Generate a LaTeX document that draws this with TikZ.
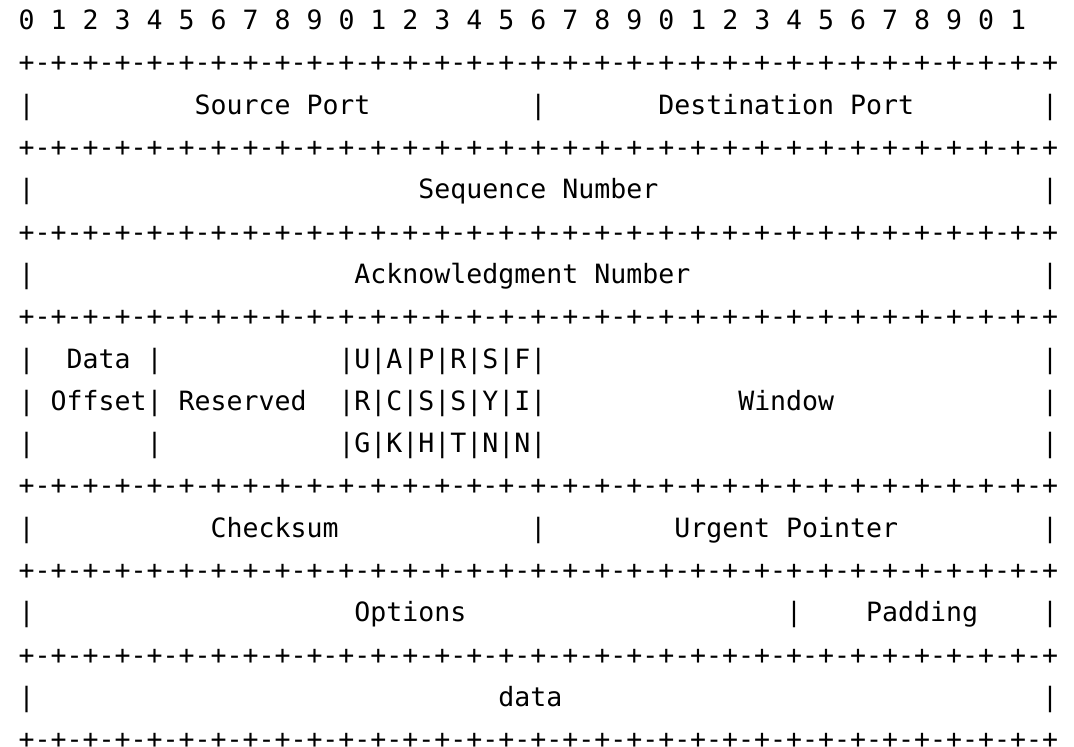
\documentclass[tikz,border=0pt]{standalone}
\usepackage{fontspec}
\newfontfamily\asciifont{DejaVu Sans Mono}

\tikzset{
  ascii/.style={font={\asciifont\fontsize{13.28pt}{16pt}\selectfont},
                anchor=base west, inner sep=0pt, outer sep=0pt},
}

\begin{document}
\begin{tikzpicture}[x=7.995pt, y=-21.15pt]
  \useasboundingbox (-9.35pt,14.8pt) rectangle (527.65pt,-358.2pt);

  % bit numbers along the top
  \foreach \b [evaluate=\b as \d using {int(mod(\b,10))}] in {0,...,31}
    \node[ascii] (bit\b) at (2*\b,0) {\d};

  % separator rows
  \foreach \r in {1,3,5,7,11,13,15,17}
    \node[ascii] (rule\r) at (0,\r) {+-+-+-+-+-+-+-+-+-+-+-+-+-+-+-+-+-+-+-+-+-+-+-+-+-+-+-+-+-+-+-+-+};

  % outer bars of the field rows
  \foreach \r in {2,4,6,8,9,10,12,14,16} {
    \node[ascii] (lbar\r) at (0,\r)  {|};
    \node[ascii] (rbar\r) at (64,\r) {|};
  }

  % ports
  \node[ascii] (src)    at (11,2) {Source Port};
  \node[ascii] (mid2)   at (32,2) {|};
  \node[ascii] (dst)    at (40,2) {Destination Port};

  % sequence / ack
  \node[ascii] (seq)    at (25,4) {Sequence Number};
  \node[ascii] (ack)    at (21,6) {Acknowledgment Number};

  % offset, reserved, flags, window
  \node[ascii] (data)   at (3,8)  {Data};
  \node[ascii] (sep8)   at (8,8)  {|};
  \node[ascii] (flagsa) at (20,8) {|U|A|P|R|S|F|};
  \node[ascii] (offset) at (2,9)  {Offset|};
  \node[ascii] (resv)   at (10,9) {Reserved};
  \node[ascii] (flagsb) at (20,9) {|R|C|S|S|Y|I|};
  \node[ascii] (window) at (45,9) {Window};
  \node[ascii] (sep10)  at (8,10) {|};
  \node[ascii] (flagsc) at (20,10) {|G|K|H|T|N|N|};

  % checksum / urgent
  \node[ascii] (cksum)  at (12,12) {Checksum};
  \node[ascii] (mid12)  at (32,12) {|};
  \node[ascii] (urg)    at (41,12) {Urgent Pointer};

  % options / padding
  \node[ascii] (opts)   at (21,14) {Options};
  \node[ascii] (mid14)  at (48,14) {|};
  \node[ascii] (pad)    at (53,14) {Padding};

  % payload
  \node[ascii] (payload) at (30,16) {data};
\end{tikzpicture}
\end{document}
